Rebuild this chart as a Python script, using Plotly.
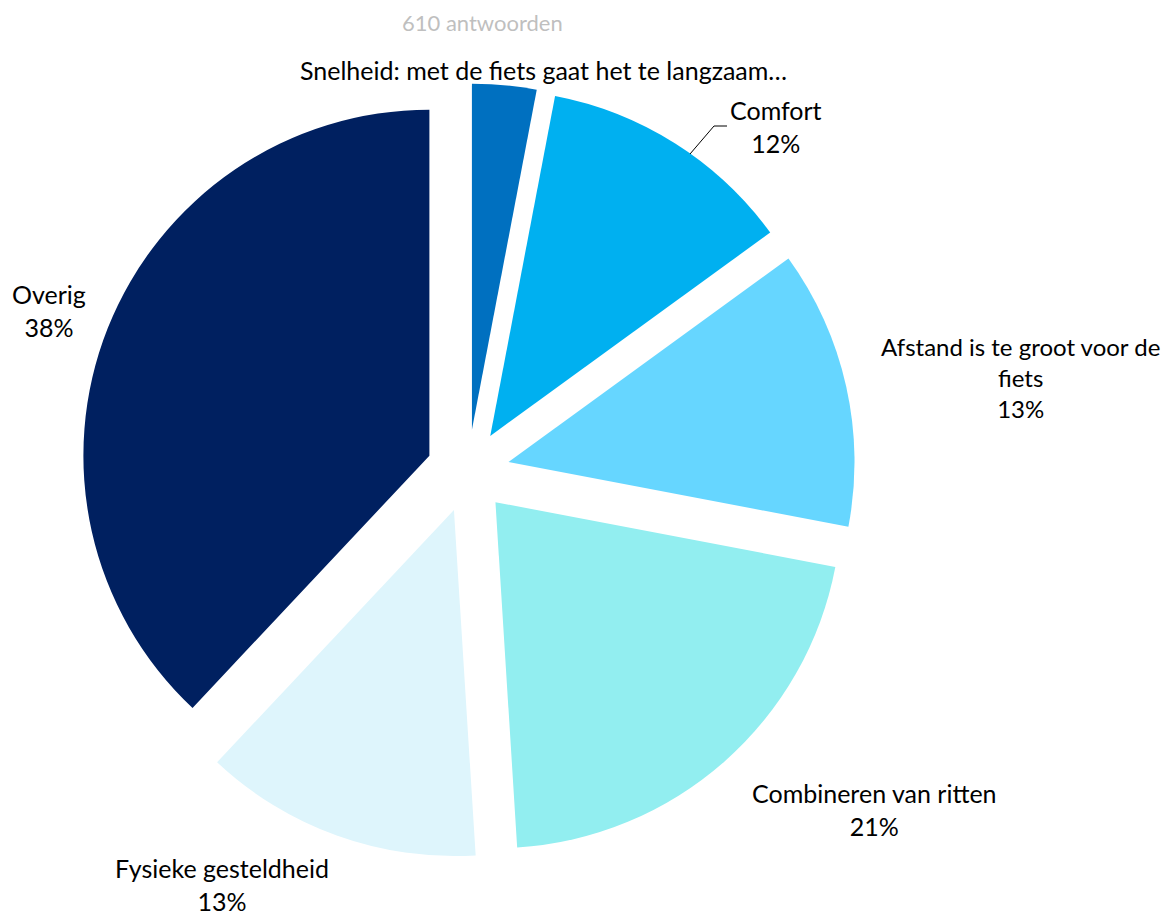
import plotly.graph_objects as go

categories = ["Snelheid: met de fiets gaat het te langzaam…", "Comfort",
              "Afstand is te groot voor de fiets", "Combineren van ritten",
              "Fysieke gesteldheid", "Overig"]
values = [3, 12, 13, 21, 13, 38]
colors = ["#0070C0", "#00B0F0", "#66D6FF", "#92EEF0", "#DEF5FC", "#002060"]
title_text = "610 antwoorden"

W, H = 1171, 914
cx, cy, r, pull = 460, 463, 346, 0.12
half = r * (1 + pull)

fig = go.Figure(go.Pie(
    labels=categories, values=values, sort=False, direction="clockwise",
    rotation=0, pull=[pull] * len(values), textinfo="none", hoverinfo="label+percent",
    marker=dict(colors=colors, line=dict(width=0)), showlegend=False,
    domain=dict(x=[(cx - half) / W, (cx + half) / W],
                y=[(H - cy - half) / H, (H - cy + half) / H]),
))

font = dict(family="Lato, Carlito, Calibri, sans-serif", size=25, color="#000000")

def px(x):
    return x / W

def py(y):
    return 1 - y / H

pct = [f"{v}%" for v in values]
labels_text = [
    categories[0],
    f"{categories[1]}<br>{pct[1]}",
    f"Afstand is te groot voor de<br>fiets<br>{pct[2]}",
    f"{categories[3]}<br>{pct[3]}",
    f"{categories[4]}<br>{pct[4]}",
    f"{categories[5]}<br>{pct[5]}",
]
label_pos = [(535, 62), (768, 118), (1012, 369), (866, 801), (214, 876), (41, 302)]
label_size = [25, 25, 24, 25, 25, 25]

annotations = []
for t, (x, y), s in zip(labels_text, label_pos, label_size):
    annotations.append(dict(text=t, x=px(x), y=py(y), xref="paper", yref="paper",
                            showarrow=False, font=dict(font, size=s), align="center",
                            xanchor="center", yanchor="middle", borderpad=0))
annotations.append(dict(text=title_text, x=px(474), y=py(15), xref="paper", yref="paper",
                        showarrow=False, font=dict(family="Lato, sans-serif", size=22, color="#BFBFBF"),
                        xanchor="center", yanchor="middle", borderpad=0))

shapes = [dict(type="path", xref="paper", yref="paper",
               path=f"M {px(682)} {py(146)} L {px(706)} {py(118)} L {px(719)} {py(118)}",
               line=dict(color="#000000", width=1))]

fig.update_layout(width=W, height=H, margin=dict(l=0, r=0, t=0, b=0),
                  paper_bgcolor="white", plot_bgcolor="white",
                  annotations=annotations, shapes=shapes)
fig.write_html("out.html")
